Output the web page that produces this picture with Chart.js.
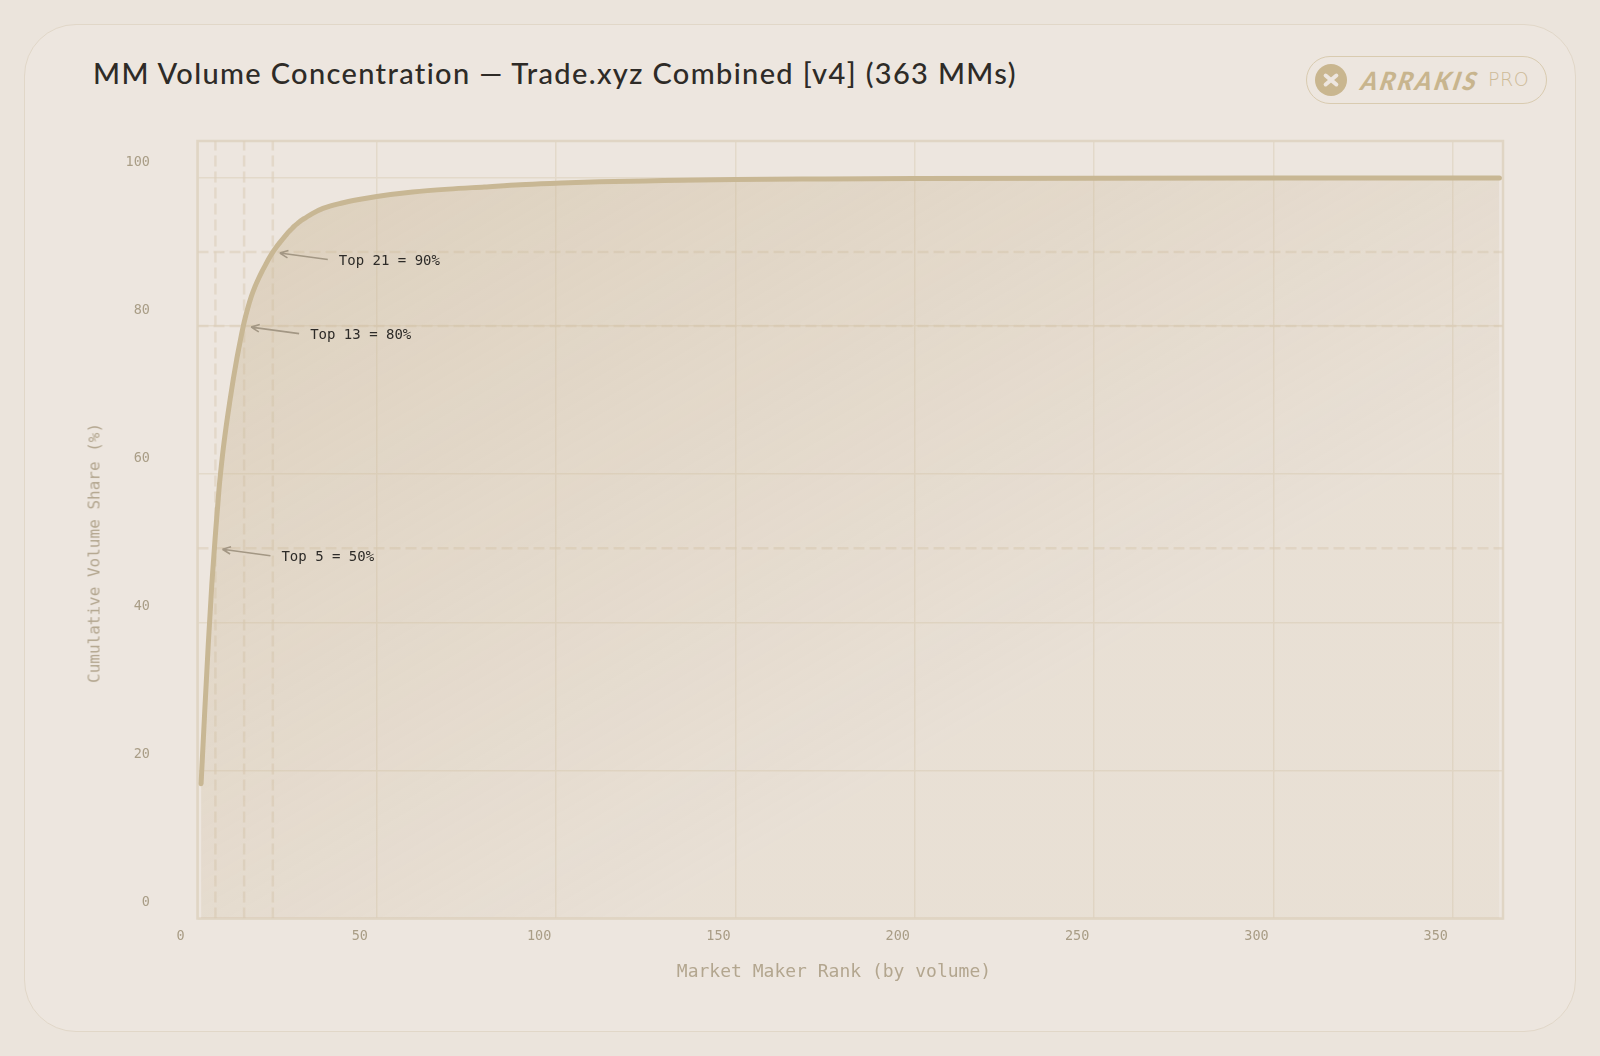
<!DOCTYPE html>
<html>
<head>
<meta charset="utf-8">
<script src="https://cdn.jsdelivr.net/npm/chart.js@4.4.1/dist/chart.umd.min.js"></script>
<style>
  html, body { margin: 0; padding: 0; }
  body {
    width: 1600px; height: 1056px; position: relative; overflow: hidden;
    background: #ebe4dc; font-family: Lato, "Noto Sans", sans-serif;
  }
  .card {
    position: absolute; left: 24px; top: 24px; width: 1552px; height: 1008px;
    box-sizing: border-box; border: 1.5px solid #e1d7c8; border-radius: 52px; background: #ede6df;
  }
  .title {
    position: absolute; left: 93px; top: 55px; font-size: 29px; font-weight: 500;
    color: #2e2b27; white-space: nowrap; letter-spacing: 1.35px;
  }
  .logo {
    position: absolute; left: 1306px; top: 56px; width: 241px; height: 48px;
    box-sizing: border-box; border: 1.5px solid #d9cbb0; border-radius: 24px;
  }
  .logo .mark {
    position: absolute; left: 8px; top: 7px; width: 32px; height: 32px;
    border-radius: 50%; background: #c9b68f;
  }
  .logo .mark::before, .logo .mark::after {
    content: ""; position: absolute; left: 7px; top: 14px; width: 18px; height: 4px;
    background: #ede6df; border-radius: 2px; transform: rotate(40deg);
  }
  .logo .mark::after { transform: rotate(-40deg); }
  .logo .name {
    position: absolute; left: 55px; top: 8px; font-size: 25px; font-weight: 900;
    font-style: italic; color: #c8b58e; letter-spacing: 2.5px; transform: skewX(-12deg);
  }
  .logo .pro {
    position: absolute; left: 181px; top: 11px; font-family: "DejaVu Sans", sans-serif;
    font-size: 19px; font-weight: 300; color: #cdbb98; letter-spacing: 0.5px;
  }
  .chart-box { position: absolute; left: 0; top: 0; width: 1600px; height: 1056px; }
  .axis-title {
    position: absolute; font-family: "DejaVu Sans Mono", monospace; color: #b3a68f; white-space: nowrap;
  }
  .x-title { left: 834px; top: 970px; font-size: 18px; transform: translate(-50%, -50%); }
  .y-title { left: 94px; top: 553px; font-size: 16px; transform: translate(-50%, -50%) rotate(-90deg); }
</style>
</head>
<body>
<div class="card"></div>
<div class="title">MM Volume Concentration — Trade.xyz Combined [v4] (363 MMs)</div>
<div class="logo"><div class="mark"></div><div class="name">ARRAKIS</div><div class="pro">PRO</div></div>
<div class="chart-box"><canvas id="concentrationChart"></canvas></div>
<div class="axis-title x-title">Market Maker Rank (by volume)</div>
<div class="axis-title y-title">Cumulative Volume Share (%)</div>

<script>
// MM rank -> cumulative share of volume (%)
const ranks = [
  1, 2, 3, 4, 5, 6, 7, 8, 9, 10, 11, 12, 13, 14, 15, 16, 17, 18, 19, 20,
  21, 22, 23, 24, 25, 26, 27, 28, 29, 30, 32, 35, 40, 45, 50, 60, 70, 80, 90, 100,
  112, 130, 150, 175, 200, 250, 300, 363,
];
const cumShare = [
  18.2, 27.8, 37.0, 45.2, 51.9, 58.0, 62.7, 66.5, 69.8, 72.9, 75.7, 78.2, 80.5, 82.4, 84.0, 85.3, 86.4, 87.4, 88.3, 89.2,
  90.0, 90.7, 91.3, 91.9, 92.5, 93.0, 93.5, 93.9, 94.3, 94.6, 95.2, 95.9, 96.6, 97.1, 97.5, 98.1, 98.5, 98.8, 99.1, 99.3,
  99.5, 99.65, 99.8, 99.88, 99.94, 99.98, 100, 100,
];

// threshold callouts
const calloutRanks = [5, 13, 21];
const calloutShares = [50, 80, 90];

const xTicks = [0, 50, 100, 150, 200, 250, 300, 350];
const yTicks = [0, 20, 40, 60, 80, 100];
const xMax = 364;
const yMax = 105;

const lineColor = "#c8b794";
const gridColor = "#e3d9ca";
const tickColor = "#a99d86";
const refColor = "rgba(220, 207, 186, 0.6)";
const mono = "'DejaVu Sans Mono', monospace";

const curveData = ranks.map((r, i) => ({ x: r, y: cumShare[i] }));

const refDatasets = [];
calloutRanks.forEach((r) => {
  refDatasets.push({
    data: [{ x: r, y: 0 }, { x: r, y: yMax }],
    borderColor: refColor, borderWidth: 2.5, borderDash: [11, 5],
    pointRadius: 0, fill: false, order: 5,
  });
});
calloutShares.forEach((s) => {
  refDatasets.push({
    data: [{ x: 0, y: s }, { x: xMax, y: s }],
    borderColor: refColor, borderWidth: 2.5, borderDash: [11, 5],
    pointRadius: 0, fill: false, order: 5,
  });
});

// plot frame on all four sides
const framePlugin = {
  id: "frame",
  beforeDatasetsDraw(chart) {
    const { ctx, chartArea: a } = chart;
    ctx.save();
    ctx.strokeStyle = "#e0d5c4";
    ctx.lineWidth = 2.5;
    ctx.strokeRect(a.left, a.top, a.right - a.left, a.bottom - a.top);
    ctx.restore();
  },
};

// arrows + "Top N = X%" labels
const calloutPlugin = {
  id: "callouts",
  afterDatasetsDraw(chart) {
    const { ctx, scales } = chart;
    ctx.save();
    ctx.font = "14px " + mono;
    ctx.textBaseline = "middle";
    calloutRanks.forEach((r, i) => {
      const s = calloutShares[i];
      const px = scales.x.getPixelForValue(r);
      const py = scales.y.getPixelForValue(s);
      const tip = [px + 7, py + 1];
      const tail = [px + 55, py + 7.5];
      ctx.strokeStyle = "#a39784";
      ctx.lineWidth = 1.6;
      ctx.beginPath();
      ctx.moveTo(tail[0], tail[1]);
      ctx.lineTo(tip[0], tip[1]);
      const ang = Math.atan2(tail[1] - tip[1], tail[0] - tip[0]);
      [0.42, -0.42].forEach((d) => {
        ctx.moveTo(tip[0], tip[1]);
        ctx.lineTo(tip[0] + 9 * Math.cos(ang + d), tip[1] + 9 * Math.sin(ang + d));
      });
      ctx.stroke();
      ctx.fillStyle = "#2d2b28";
      ctx.fillText(`Top ${r} = ${s}%`, px + 66, py + 9);
    });
    ctx.restore();
  },
};

const ctx = document.getElementById("concentrationChart").getContext("2d");
new Chart(ctx, {
  type: "line",
  data: {
    datasets: [
      {
        data: curveData,
        borderColor: lineColor,
        borderWidth: 5,
        borderCapStyle: "round",
        borderJoinStyle: "round",
        cubicInterpolationMode: "monotone",
        pointRadius: 0,
        fill: "origin",
        order: 1,
        backgroundColor: (c) => {
          const a = c.chart.chartArea;
          if (!a) return "rgba(200, 182, 148, 0.3)";
          // mostly vertical fade, slightly lighter toward the right
          const g = c.chart.ctx.createLinearGradient(a.left, a.top, a.left + (a.right - a.left) * 0.35, a.bottom);
          g.addColorStop(0, "rgba(200, 180, 145, 0.44)");
          g.addColorStop(1, "rgba(200, 180, 145, 0.12)");
          return g;
        },
      },
      ...refDatasets,
    ],
  },
  options: {
    responsive: true,
    maintainAspectRatio: false,
    animation: false,
    layout: { padding: { top: 141, right: 97, left: 0, bottom: 0 } },
    plugins: { legend: { display: false }, tooltip: { enabled: false } },
    scales: {
      x: {
        type: "linear",
        min: 0,
        max: xMax,
        afterFit: (scale) => { scale.height = 137.5; },
        afterBuildTicks: (scale) => { scale.ticks = xTicks.map((v) => ({ value: v })); },
        grid: { color: gridColor, lineWidth: 1.5, drawTicks: false },
        border: { display: false },
        ticks: { color: tickColor, font: { family: mono, size: 13.5 }, padding: 10, labelOffset: -17 },
      },
      y: {
        min: 0,
        max: yMax,
        afterFit: (scale) => { scale.width = 197.5; },
        afterBuildTicks: (scale) => { scale.ticks = yTicks.map((v) => ({ value: v })); },
        grid: { color: gridColor, lineWidth: 1.5, drawTicks: false },
        border: { display: false },
        ticks: { color: tickColor, font: { family: mono, size: 13.5 }, padding: 47.5, labelOffset: -16 },
      },
    },
  },
  plugins: [framePlugin, calloutPlugin],
});
</script>
</body>
</html>
